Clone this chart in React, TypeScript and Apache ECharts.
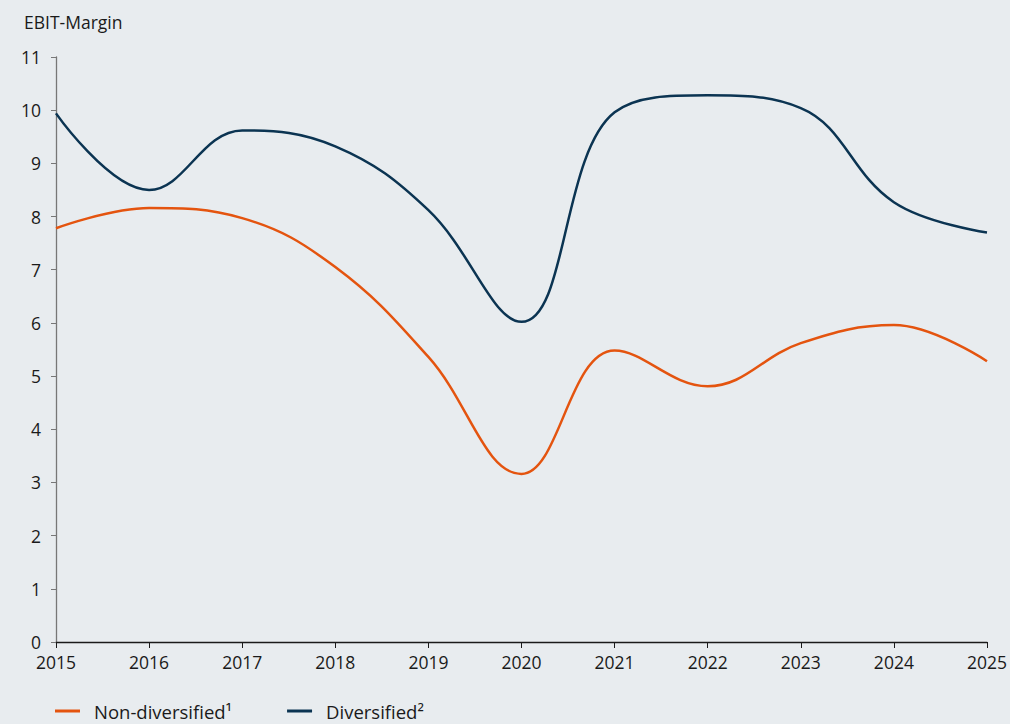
import React, { useEffect, useRef } from "react";
import * as echarts from "echarts";

const years = ["2015", "2016", "2017", "2018", "2019", "2020", "2021", "2022", "2023", "2024", "2025"];
const nonDiversified = [7.78, 8.16, 7.97, 7.05, 5.36, 3.16, 5.48, 4.81, 5.62, 5.96, 5.28];
const diversified = [9.94, 8.5, 9.62, 9.32, 8.12, 6.02, 9.96, 10.28, 10.04, 8.27, 7.7];
const seriesNames = ["Non-diversified¹", "Diversified²"];
const colors = ["#e4540f", "#0b3452"];

export default function App() {
  const ref = useRef<HTMLDivElement>(null);
  useEffect(() => {
    const chart = echarts.init(ref.current!, null, { renderer: "svg" });
    const font = "'Open Sans', 'Noto Sans', sans-serif";
    chart.setOption({
      animation: false,
      backgroundColor: "#e8ecef",
      textStyle: { fontFamily: font },
      title: {
        text: "EBIT-Margin",
        left: 19,
        top: 8,
        textStyle: { fontFamily: font, fontSize: 17.5, fontWeight: "normal", color: "#1a1a1a" },
      },
      legend: {
        top: 700,
        left: 55,
        padding: 0,
        itemGap: 55,
        icon: "rect",
        itemWidth: 25,
        itemHeight: 3,
        textStyle: { fontFamily: font, fontSize: 18.5, lineHeight: 22, color: "#1a1a1a", padding: [0, 0, 0, 9] },
        data: seriesNames,
      },
      grid: { left: 56, right: 23, top: 57, bottom: 82, containLabel: false },
      xAxis: {
        type: "category",
        data: years,
        boundaryGap: false,
        axisLine: { lineStyle: { color: "#1a1a1a", width: 1.3 } },
        axisTick: { show: true, length: 6, lineStyle: { color: "#1a1a1a" } },
        axisLabel: { fontFamily: font, fontSize: 17.5, color: "#1a1a1a", margin: 11 },
        splitLine: { show: false },
      },
      yAxis: {
        type: "value",
        min: 0,
        max: 11,
        interval: 1,
        axisLine: { show: true, lineStyle: { color: "#777777", width: 1.3 } },
        axisTick: { show: true, length: 5, lineStyle: { color: "#777777" } },
        axisLabel: { fontFamily: font, fontSize: 17.5, color: "#1a1a1a", margin: 15 },
        splitLine: { show: false },
      },
      series: [
        {
          name: seriesNames[0],
          type: "line",
          data: nonDiversified,
          smooth: 0.4,
          showSymbol: false,
          symbol: "none",
          lineStyle: { color: colors[0], width: 2.5 },
          itemStyle: { color: colors[0] },
        },
        {
          name: seriesNames[1],
          type: "line",
          data: diversified,
          smooth: 0.4,
          showSymbol: false,
          symbol: "none",
          lineStyle: { color: colors[1], width: 2.5 },
          itemStyle: { color: colors[1] },
        },
      ],
    });
    return () => chart.dispose();
  }, []);
  return <div ref={ref} style={{ position: "fixed", left: 0, top: 0, width: 1010, height: 724 }} />;
}
